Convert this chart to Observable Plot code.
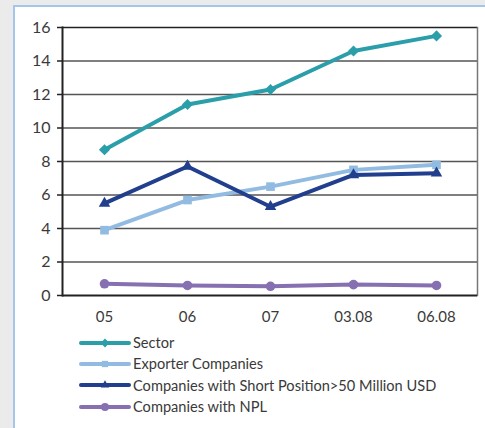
<!DOCTYPE html>
<html>
<head>
<meta charset="utf-8">
<script src="https://cdn.jsdelivr.net/npm/d3@7"></script>
<script src="https://cdn.jsdelivr.net/npm/@observablehq/plot@0.6"></script>
<style>
  html, body { margin: 0; padding: 0; background: #ebebec; }
  body { width: 485px; height: 428px; position: relative; overflow: hidden; font-family: "Lato", "DejaVu Sans", sans-serif; }
  #panel { position: absolute; left: 13px; top: 5px; width: 480px; height: 430px; background: #fff;
           border-left: 2px solid #a3c6ea; border-top: 2px solid #a3c6ea; }
  #chart { position: absolute; left: 0; top: 0; }
  #legend { position: absolute; left: 79px; top: 332px; font-size: 14.6px; color: #3a3a3a; }
  .item { display: flex; align-items: center; height: 21.3px; }
  .item svg { margin-right: 2px; }
</style>
</head>
<body>
<div id="panel"></div>
<div id="chart"></div>
<div id="legend"></div>
<script>
// Periods on the x axis
const periods = ["05", "06", "07", "03.08", "06.08"];

// Series values per period
const sector = [8.7, 11.4, 12.3, 14.6, 15.5];
const exporters = [3.9, 5.7, 6.5, 7.5, 7.8];
const shortPosition = [5.5, 7.7, 5.3, 7.2, 7.3];
const npl = [0.7, 0.6, 0.55, 0.65, 0.6];

const seriesNames = [
  "Sector",
  "Exporter Companies",
  "Companies with Short Position>50 Million USD",
  "Companies with NPL"
];
const seriesColors = ["#2a9ea9", "#92bbe2", "#213f8d", "#8670b1"];
const seriesSymbols = ["diamond2", "square2", "triangle2", "circle"];
const seriesSizes = [5, 5.5, 5.5, 4.8];

const yTicks = [0, 2, 4, 6, 8, 10, 12, 14, 16];

const allValues = [sector, exporters, shortPosition, npl];
const rows = allValues.flatMap((vals, s) =>
  vals.map((v, i) => ({series: seriesNames[s], period: periods[i], value: v, s}))
);

const seriesMarks = seriesNames.flatMap((name, s) => {
  const d = rows.filter(r => r.s === s);
  return [
    Plot.line(d, {x: "period", y: "value", stroke: seriesColors[s], strokeWidth: 4}),
    Plot.dot(d, {x: "period", y: "value", fill: seriesColors[s], stroke: "none",
                 symbol: () => seriesSymbols[s], r: seriesSizes[s]})
  ];
});

const chart = Plot.plot({
  width: 485,
  height: 335,
  marginLeft: 62,
  marginRight: 8,
  marginTop: 27,
  marginBottom: 40,
  style: {background: "transparent", fontFamily: "Lato, 'DejaVu Sans', sans-serif", color: "#3a3a3a"},
  x: {type: "point", domain: periods, padding: 0.5, label: null},
  y: {domain: [0, 16], label: null},
  marks: [
    Plot.ruleY(yTicks.filter(t => t > 0 && t < 16), {stroke: "#555", strokeWidth: 1.3}),
    Plot.ruleY([16], {stroke: "#222", strokeWidth: 1.5}),
    Plot.frame({anchor: "right", stroke: "#777", strokeWidth: 1.5}),
    Plot.axisY({ticks: yTicks, tickSize: 5, tickPadding: 7, fontSize: 16, stroke: "#222", strokeWidth: 1.5, label: null}),
    Plot.axisX({tickSize: 0, tickPadding: 16, fontSize: 15, label: null}),
    ...seriesMarks,
    Plot.ruleY([0], {stroke: "#222", strokeWidth: 2}),
    Plot.frame({anchor: "left", stroke: "#222", strokeWidth: 2})
  ]
});
document.getElementById("chart").appendChild(chart);

// Legend below the chart
const legend = d3.select("#legend");
seriesNames.forEach((name, s) => {
  const item = legend.append("div").attr("class", "item");
  const svg = item.append("svg").attr("width", 52).attr("height", 14);
  svg.append("line").attr("x1", 2).attr("x2", 50).attr("y1", 7).attr("y2", 7)
    .attr("stroke", seriesColors[s]).attr("stroke-width", 4).attr("stroke-linecap", "round");
  const sym = {diamond2: d3.symbolDiamond2, square2: d3.symbolSquare2, triangle2: d3.symbolTriangle2, circle: d3.symbolCircle}[seriesSymbols[s]];
  svg.append("path").attr("transform", "translate(26,7)")
    .attr("d", d3.symbol(sym, 50)()).attr("fill", seriesColors[s]);
  item.append("span").text(name);
});
</script>
</body>
</html>
